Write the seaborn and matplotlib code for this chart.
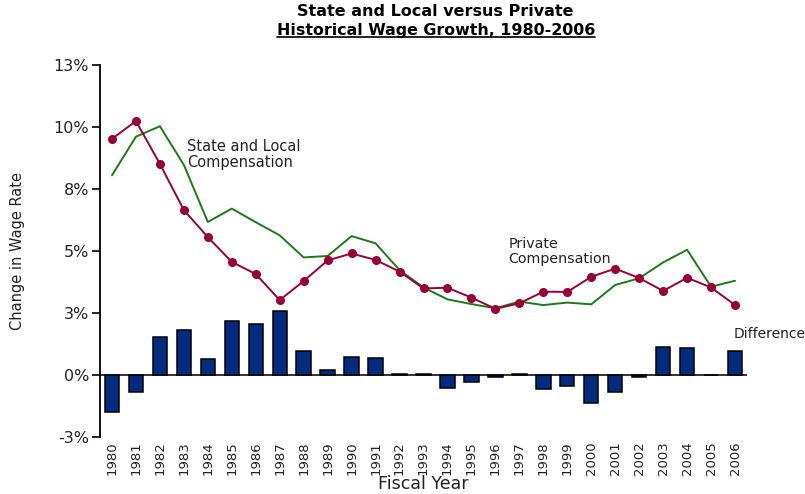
import matplotlib
matplotlib.use("Agg")
import matplotlib.pyplot as plt
from matplotlib.lines import Line2D
import numpy as np
import pandas as pd
import seaborn as sns

# Fiscal years
years = list(range(1980, 2007))

# Annual change in wage rate (%)
state_local = [8.05, 9.61, 10.03, 8.47, 6.17, 6.71, 6.16, 5.63, 4.74, 4.80,
               5.60, 5.31, 4.23, 3.53, 3.05, 2.86, 2.69, 2.96, 2.82, 2.92,
               2.85, 3.63, 3.90, 4.54, 5.05, 3.56, 3.80]
private = [9.52, 10.24, 8.51, 6.65, 5.56, 4.56, 4.07, 3.02, 3.79, 4.62,
           4.90, 4.64, 4.17, 3.49, 3.52, 3.12, 2.67, 2.89, 3.36, 3.35,
           3.96, 4.29, 3.91, 3.39, 3.92, 3.53, 2.82]
difference = [-1.48, -0.67, 1.52, 1.83, 0.66, 2.16, 2.07, 2.59, 0.95, 0.19,
              0.71, 0.69, 0.05, 0.03, -0.52, -0.27, -0.08, 0.05, -0.55, -0.43,
              -1.14, -0.70, -0.08, 1.13, 1.10, -0.02, 0.95]

y_ticks = [-2.5, 0, 2.5, 5, 7.5, 10, 12.5]
y_tick_labels = ["-3%", "0%", "3%", "5%", "8%", "10%", "13%"]

df = pd.DataFrame({"year": years, "state_local": state_local,
                   "private": private, "difference": difference})

sns.set_theme(style="white")
plt.rcParams["font.family"] = ["DejaVu Sans"]

fig = plt.figure(figsize=(8.05, 4.94), dpi=100)
ax = fig.add_axes([100 / 805, 1 - 437 / 494, 647 / 805, 372 / 494])

sns.barplot(data=df, x="year", y="difference", native_scale=True, width=0.6,
            color="#002B7F", saturation=1, edgecolor="black", linewidth=1.1,
            ax=ax, zorder=3)
ax.axhline(0, color="#222222", lw=1.3, zorder=2)

sns.lineplot(data=df, x="year", y="state_local", color="#1A7A1A", lw=1.4,
             ax=ax, zorder=4)
sns.lineplot(data=df, x="year", y="private", color="#990033", lw=1.4,
             marker="o", markersize=6.5, markeredgewidth=0, ax=ax, zorder=5)

ax.set_xlim(1979.5, 2006.5)
ax.set_ylim(-2.5, 12.5)
ax.set_yticks(y_ticks)
ax.set_yticklabels(y_tick_labels, fontsize=11.5, color="#222222")
ax.set_xticks(years)
ax.set_xticklabels([str(y) for y in years], rotation=90, fontsize=9.5,
                   color="#222222")
ax.tick_params(axis="y", direction="out", length=6, width=1.2, color="black",
               left=True, pad=2)
ax.tick_params(axis="x", length=0, pad=3)

for side in ["top", "right", "bottom"]:
    ax.spines[side].set_visible(False)
ax.spines["left"].set_color("black")
ax.spines["left"].set_linewidth(1.3)

ax.set_xlabel("Fiscal Year", fontsize=12.5, color="#222222", labelpad=0)
ax.set_ylabel("Change in Wage Rate", fontsize=10.5, color="#222222",
              labelpad=20)

ax.text(1983.15, 8.9, "State and Local\nCompensation", fontsize=10.5,
        color="#222222", va="center", ha="left", linespacing=1.1)
ax.text(1996.55, 4.97, "Private\nCompensation", fontsize=10.3,
        color="#222222", va="center", ha="left", linespacing=1.1)
ax.text(2005.95, 1.65, "Difference", fontsize=10, color="#222222",
        va="center", ha="left", clip_on=False)

fig.text(435 / 805, 1 - 11 / 494, "State and Local versus Private",
         fontsize=11.5, fontweight="bold", ha="center", va="center",
         color="black")
sub = fig.text(436 / 805, 1 - 30 / 494, "Historical Wage Growth, 1980-2006",
               fontsize=11.4, fontweight="bold", ha="center", va="center",
               color="black")

# underline the second title line
fig.canvas.draw()
bb = sub.get_window_extent(renderer=fig.canvas.get_renderer())
bb = bb.transformed(fig.transFigure.inverted())
fig.add_artist(Line2D([bb.x0, bb.x1], [bb.y0 + 0.002, bb.y0 + 0.002],
                      transform=fig.transFigure, color="black", lw=1.2))

fig.savefig("out.png", dpi=100)
